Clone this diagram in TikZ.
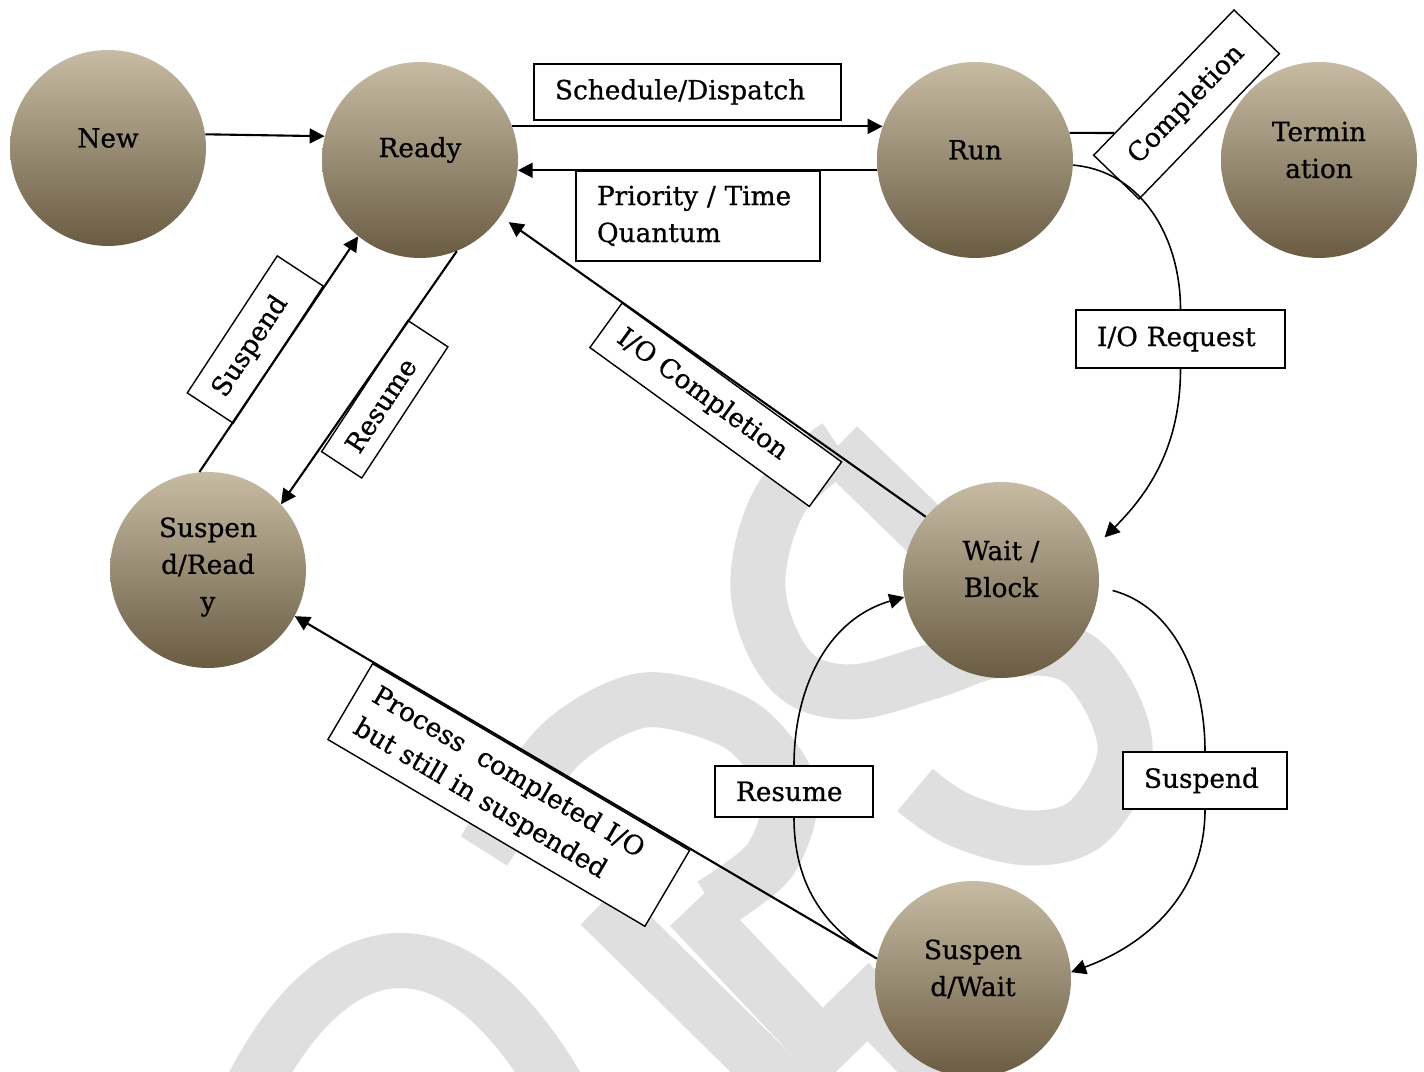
\documentclass[tikz,border=0pt]{standalone}
\usepackage{fontspec}
\setmainfont{DejaVu Serif}
\newfontfamily\lblfont[FakeBold=0.7]{DejaVu Serif}
\usetikzlibrary{arrows.meta}
\definecolor{stTop}{RGB}{199,187,164}
\definecolor{stMid}{RGB}{165,143,110}
\definecolor{stBot}{RGB}{106,92,67}
\definecolor{wmark}{RGB}{223,223,223}
\begin{document}
\begin{tikzpicture}[x=0.02cm,y=0.02cm,
  every node/.style={font=\lblfont\fontsize{15}{21}\selectfont},
  state/.style={circle,minimum size=3.92cm,inner sep=0pt,top color=stTop,middle color=stMid,bottom color=stBot,draw=none},
  stxt/.style={align=center,inner sep=0pt},
  lbl/.style 2 args={draw=black,line width=0.8pt,fill=white,inner sep=0pt,minimum width=#1,text width=#2,align=left},
  arr/.style={line width=1.2pt,-{Triangle[length=8.5pt,width=8.5pt]}},
  arrc/.style={line width=0.9pt,-{Triangle[length=8.5pt,width=8.5pt]}},
  ln/.style={line width=0.9pt},
  wm/.style={draw=wmark,line width=1.1cm,line cap=butt,line join=round}
]
\useasboundingbox (0,0) rectangle (1424,1072);
\fill[white] (0,0) rectangle (1424,1072);

% watermark
\begin{scope}
\clip (0,0) rectangle (1424,1072);
\draw[wm] (975,493) -- (838,626);
\draw[wm] plot[smooth,tension=0.6] coordinates {(838,626) (780,572) (758,482) (790,402) (850,380) (930,400) (1000,422) (1080,412) (1125,327) (1090,252) (1030,234) (960,252) (915,282)};
\draw[wm] (250,-20) .. controls (330,140) and (450,170) .. (560,-20);
\draw[wm] plot[smooth] coordinates {(484,221) (560,327) (645,372) (740,347) (790,282) (770,212) (712,167)};
\draw[wm] (600,167) -- (790,-20);
\draw[wm,line join=miter] (690,165) -- (822,25) -- (868,70) -- (950,-15);
\end{scope}

% states
\node[state] (new) at (108,924) {};
\node[state] (ready) at (420,912) {};
\node[state] (run) at (975,912) {};
\node[state] (term) at (1319,912) {};
\node[state] (sready) at (208,502) {};
\node[state] (wait) at (1001,492) {};
\node[state] (swait) at (973,93) {};

\node[stxt] (new-t) at ([yshift=0.2cm]new.center) {New};
\node[stxt] (ready-t) at ([yshift=0.2cm]ready.center) {Ready};
\node[stxt] (run-t) at ([yshift=0.2cm]run.center) {Run};
\node[stxt] (term-t) at ([yshift=0.2cm]term.center) {Termin\\ation};
\node[stxt] (sready-t) at ([yshift=0.06cm]sready.center) {Suspen\\d/Read\\y};
\node[stxt] (wait-t) at ([yshift=0.22cm]wait.center) {Wait /\\Block};
\node[stxt] (swait-t) at ([yshift=0.2cm]swait.center) {Suspen\\d/Wait};

% labels
\node[lbl={6.14cm}{5.3cm},minimum height=1.12cm] (sched) at (687.5,980) {Schedule/Dispatch};
\node[lbl={4.88cm}{4.04cm},minimum height=1.8cm] (prio) at (698,856) {\mbox{Priority / Time}\\Quantum};
\node[lbl={4.04cm}{3.4cm},minimum height=1.26cm,rotate=46,align=center] (comp) at (1186.5,967.5) {Completion};
\node[lbl={4.18cm}{3.34cm},minimum height=1.16cm] (iorq) at (1180.5,733) {\mbox{I/O Request}};
\node[lbl={5.42cm}{4.74cm},minimum height=1.1cm,rotate=-35.9] (iocomp) at (715.75,667.25) {I/O Completion};
\node[lbl={3.14cm}{2.42cm},minimum height=0.96cm,rotate=56.7] (resl) at (384.75,672.75) {Resume};
\node[lbl={3.28cm}{2.64cm},minimum height=1.1cm,rotate=56.7] (suspl) at (255.25,732.5) {Suspend};
\node[lbl={7.36cm}{6.68cm},minimum height=1.76cm,rotate=-30.5] (proc) at (508.75,277) {\mbox{Process\ \ completed I/O}\\but still in suspended};
\node[lbl={3.16cm}{2.32cm},minimum height=1.02cm] (resb) at (794,280.5) {Resume};
\node[lbl={3.28cm}{2.44cm},minimum height=1.14cm] (suspr) at (1205,291.5) {Suspend};

\coordinate (cstub) at (1114,939);

% connectors
\draw[arr] (new.8) -- (ready.166);
\draw[arr] (ready.20) -- (run.160);
\draw[arr] (run.186) -- (ready.-6);
\draw[line width=1.2pt] (run.16) -- (cstub);
\draw[ln] (run.-3) to[out=-5,in=90] (iorq.north);
\draw[arrc,shorten >=0.3cm] (iorq.south) to[out=-90,in=45] (wait.19);
\draw[arr,shorten >=0.2cm] (wait.140) -- (ready.-35);
\draw[arr] (ready.-68) -- (sready.42);
\draw[arr] (sready.95) -- (ready.231);
\draw[arr] (swait.168) -- (sready.-28);
\draw[ln,shorten <=0.28cm] (wait.-4) to[out=-15,in=90] (suspr.north);
\draw[arrc] (suspr.south) to[out=-90,in=20] (swait.4);
\draw[ln] (swait.168) to[out=150,in=-90] (resb.south);
\draw[arrc] (resb.north) to[out=90,in=196] (wait.190);
\end{tikzpicture}
\end{document}
